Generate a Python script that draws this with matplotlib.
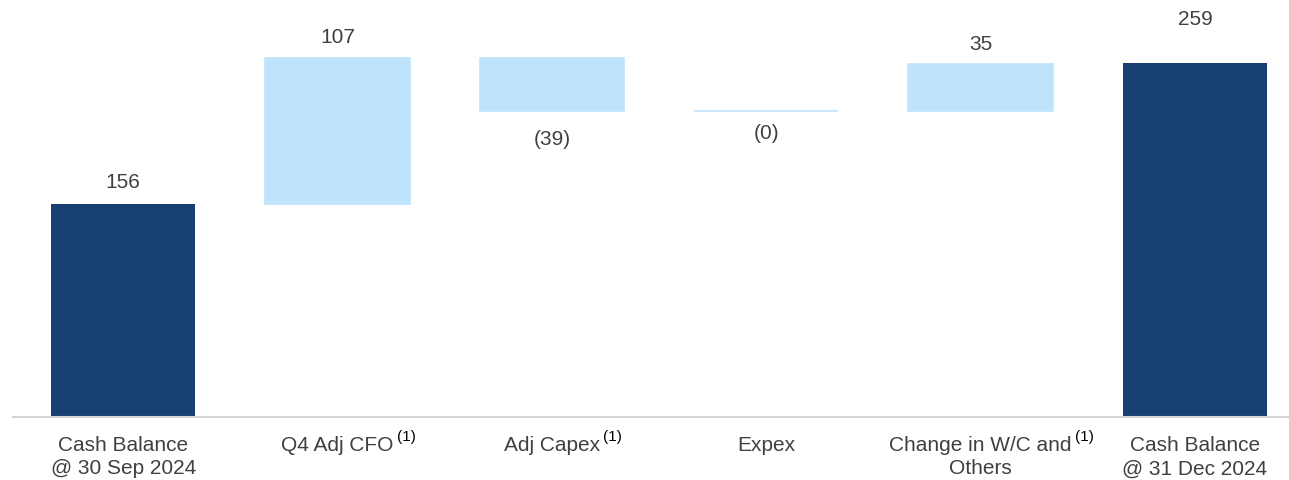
import matplotlib
matplotlib.use("Agg")
import matplotlib.pyplot as plt

plt.rcParams["font.family"] = ["Liberation Sans", "DejaVu Sans"]

# ---- data ----
categories = [
    ("Cash Balance", "@ 30 Sep 2024"),
    ("Q4 Adj CFO", ""),
    ("Adj Capex", ""),
    ("Expex", ""),
    ("Change in W/C and", "Others"),
    ("Cash Balance", "@ 31 Dec 2024"),
]
footnotes = ["", "(1)", "(1)", "", "(1)", ""]
values = [156, 107, -39, -0.4, 35, 259]
is_total = [True, False, False, False, False, True]

DARK = "#173f72"
LIGHT = "#bfe3fd"
TEXT = "#404040"

fig = plt.figure(figsize=(12.89, 4.81), dpi=100)
ax = fig.add_axes([13 / 1289, 63 / 481, 1276 / 1289, 410 / 481])

running = 0.0
bar_w = 0.673
label_off = [22, 21, 28, 21, 20, 45]  # px gap between bar end and value label
for i, (v, tot) in enumerate(zip(values, is_total)):
    if tot:
        bottom, height, color = 0, v, DARK
        running = v
    else:
        bottom, height, color = running, v, LIGHT
        running += v
    # small edge so the near-zero bar still shows as a thin line
    ax.bar(i, height, bottom=bottom, width=bar_w, color=color,
           edgecolor=color, linewidth=0 if tot else 1.2)

    txt = f"({abs(v):.0f})" if v < 0 else f"{v:.0f}"
    top = max(bottom, bottom + height)
    low = min(bottom, bottom + height)
    if v >= 0:
        ax.annotate(txt, (i, top), xytext=(0, label_off[i]), textcoords="offset pixels",
                    ha="center", va="center", fontsize=15, color=TEXT)
    else:
        ax.annotate(txt, (i, low), xytext=(0, -label_off[i]), textcoords="offset pixels",
                    ha="center", va="center", fontsize=15, color=TEXT)

# category labels with superscript footnotes
for i, (l1, l2) in enumerate(categories):
    t1 = ax.annotate(l1, (i, 0), xycoords=("data", "axes fraction"),
                     xytext=(0, -28), textcoords="offset pixels",
                     ha="center", va="center", fontsize=15, color=TEXT)
    if l2:
        ax.annotate(l2, (i, 0), xycoords=("data", "axes fraction"),
                    xytext=(0, -51), textcoords="offset pixels",
                    ha="center", va="center", fontsize=15, color=TEXT)
    if footnotes[i]:
        ax.annotate(footnotes[i], (1, 0.6), xycoords=t1,
                    xytext=(3, 0), textcoords="offset pixels",
                    ha="left", va="bottom", fontsize=11, color="black")

ax.set_xlim(-0.514, 5.439)
ax.set_ylim(0, 300)
ax.set_xticks([])
ax.set_yticks([])
for s in ["top", "right", "left"]:
    ax.spines[s].set_visible(False)
ax.spines["bottom"].set_color("#d4d4d4")
ax.spines["bottom"].set_linewidth(1.5)

fig.savefig("out.png", dpi=100)
